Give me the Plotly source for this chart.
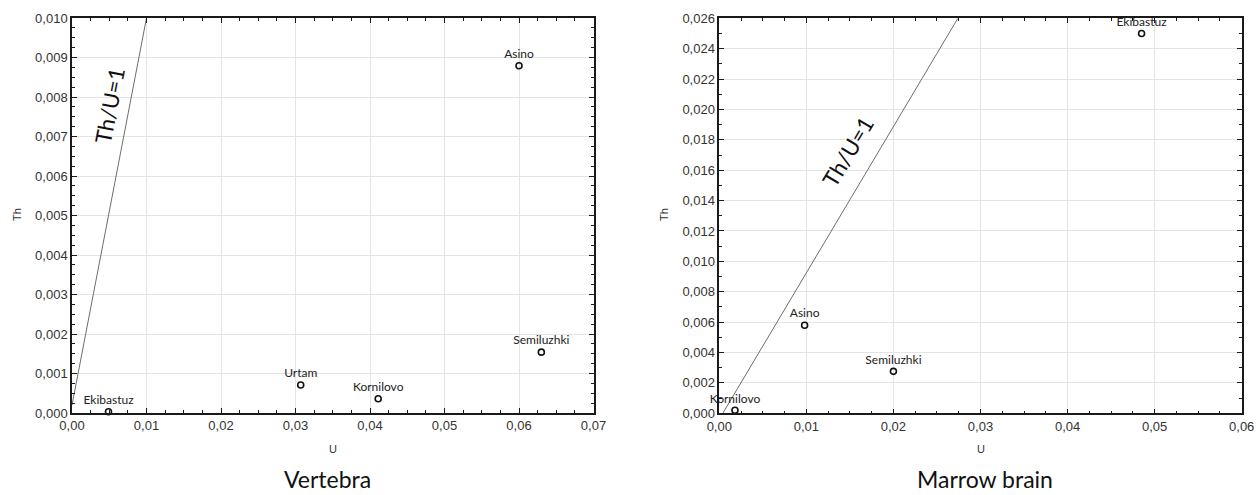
import plotly.graph_objects as go

# ---- Data: Vertebra ----
vert_sites = ["Ekibastuz", "Urtam", "Kornilovo", "Semiluzhki", "Asino"]
vert_u = [0.0049, 0.0307, 0.0411, 0.0630, 0.0600]
vert_th = [0.00003, 0.00071, 0.00036, 0.00154, 0.00879]
vert_ref_u = [0.0, 0.0100]
vert_ref_th = [0.0002, 0.0100]

# ---- Data: Marrow brain ----
marrow_sites = ["Ekibastuz", "Asino", "Semiluzhki", "Kornilovo"]
marrow_u = [0.0485, 0.0098, 0.0200, 0.0018]
marrow_th = [0.0250, 0.0058, 0.00276, 0.0002]
marrow_ref_u = [0.0004, 0.0274]
marrow_ref_th = [0.0, 0.0260]

panel_titles = ["Vertebra", "Marrow brain"]
ref_label = "Th/U=1"

W, H = 1256, 495
def px_x(p): return p / W
def px_y(p): return 1 - p / H

fig = go.Figure()

label_font = dict(family="Lato, Carlito, sans-serif", size=12, color="#222")

def add_panel(xa, ya, sites, u, th, ru, rth):
    fig.add_trace(go.Scatter(
        x=ru, y=rth, mode="lines", line=dict(color="#6e6e6e", width=1),
        xaxis=xa, yaxis=ya, showlegend=False, hoverinfo="skip"))
    fig.add_trace(go.Scatter(
        x=u, y=th, mode="markers+text", text=sites, textposition="top center",
        textfont=label_font,
        marker=dict(symbol="circle-open", size=6, color="#111", line=dict(width=1.6, color="#111")),
        xaxis=xa, yaxis=ya, showlegend=False, cliponaxis=False))

add_panel("x", "y", vert_sites, vert_u, vert_th, vert_ref_u, vert_ref_th)
add_panel("x2", "y2", marrow_sites, marrow_u, marrow_th, marrow_ref_u, marrow_ref_th)

tickfont = dict(family="Liberation Sans, Arial, sans-serif", size=13, color="#333")
common = dict(showline=True, linecolor="#1a1a1a", linewidth=1.5, mirror="ticks",
              ticks="inside", ticklen=5, tickcolor="#1a1a1a", tickwidth=1,
              showgrid=True, gridcolor="#e4e4e4", gridwidth=1, zeroline=False,
              tickfont=tickfont, automargin=False)

fig.update_layout(
    width=W, height=H, margin=dict(l=0, r=0, t=0, b=0),
    paper_bgcolor="white", plot_bgcolor="white", separators=",.",
    xaxis=dict(domain=[px_x(72), px_x(593.5)], range=[0, 0.07], dtick=0.01, tickformat=".2f",
               anchor="y", minor=dict(dtick=0.0025, ticks="inside", ticklen=3, tickcolor="#1a1a1a", showgrid=False),
               **common),
    yaxis=dict(domain=[px_y(413), px_y(18)], range=[0, 0.010], dtick=0.001, tickformat=".3f",
               anchor="x", minor=dict(dtick=0.00025, ticks="inside", ticklen=3, tickcolor="#1a1a1a", showgrid=False),
               **common),
    xaxis2=dict(domain=[px_x(719.3), px_x(1241.7)], range=[0, 0.06], dtick=0.01, tickformat=".2f",
                anchor="y2", minor=dict(dtick=0.0025, ticks="inside", ticklen=3, tickcolor="#1a1a1a", showgrid=False),
                **common),
    yaxis2=dict(domain=[px_y(413.3), px_y(18.3)], range=[0, 0.026], dtick=0.002, tickformat=".3f",
                anchor="x2", minor=dict(dtick=0.001, ticks="inside", ticklen=3, tickcolor="#1a1a1a", showgrid=False),
                **common),
)

axis_title_font = dict(family="Liberation Sans, Arial, sans-serif", size=11, color="#333")
title_font = dict(family="Lato, Carlito, sans-serif", size=23, color="#111")
ref_font = dict(family="Lato, Carlito, sans-serif", size=22, color="#111")

base = dict(xref="paper", yref="paper", showarrow=False, xanchor="center", yanchor="middle")
anns = [
    dict(text="U", x=px_x(332.5), y=px_y(449), font=axis_title_font, **base),
    dict(text="U", x=px_x(980.5), y=px_y(449), font=axis_title_font, **base),
    dict(text="Th", x=px_x(17), y=px_y(215), textangle=-90, font=axis_title_font, **base),
    dict(text="Th", x=px_x(664), y=px_y(215), textangle=-90, font=axis_title_font, **base),
    dict(text=panel_titles[0], x=px_x(327), y=px_y(479), font=title_font, **base),
    dict(text=panel_titles[1], x=px_x(985), y=px_y(479), font=title_font, **base),
    dict(text=ref_label, x=0.0051, y=0.0078, xref="x", yref="y", showarrow=False, textangle=-79,
         xanchor="center", yanchor="middle", font=ref_font),
    dict(text=ref_label, x=0.0148, y=0.0172, xref="x2", yref="y2", showarrow=False, textangle=-59,
         xanchor="center", yanchor="middle", font=ref_font),
]
fig.update_layout(annotations=anns)

fig.write_html(
    "out.html",
    config={"displayModeBar": False},
    post_script="document.body.style.margin='0px';document.body.style.overflow='hidden';",
)
